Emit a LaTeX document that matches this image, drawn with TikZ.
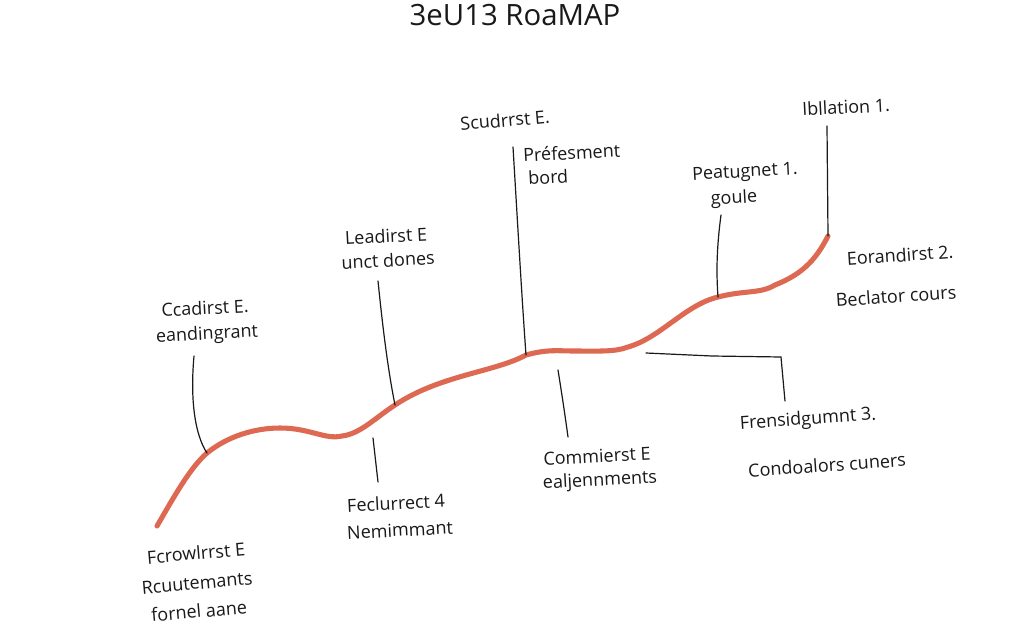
\documentclass[tikz,border=0pt]{standalone}
\usepackage{fontspec}
\setmainfont{Open Sans}
\definecolor{road}{RGB}{222,105,82}
\definecolor{ink}{RGB}{25,25,25}
\begin{document}
\begin{tikzpicture}[x=0.75pt,y=-0.75pt,
  lbl/.style={inner sep=0pt,text=ink,font=\fontsize{13.5}{16}\selectfont,rotate=3},
  ttl/.style={inner sep=0pt,text=ink,font=\fontsize{22}{26}\selectfont},
  leader/.style={draw=ink,line width=0.9pt,line cap=round},
  roadline/.style={draw=road,line width=3.8pt,line cap=round}]
\useasboundingbox[fill=white] (0,0) rectangle (1024,628);
% title
\node[ttl,anchor=base] (title) at (515,25) {3eU13 RoaMAP};
% road curve
\coordinate (r0) at (157,526);
\coordinate (r1) at (207,453);
\coordinate (r2) at (280,428);
\coordinate (r3) at (342,436);
\coordinate (r4) at (395,405);
\coordinate (r5) at (526,355);
\coordinate (r6) at (573,351);
\coordinate (r7) at (628,347);
\coordinate (r8) at (718,297);
\coordinate (r9) at (775,285);
\coordinate (r10) at (828,236);
\draw[roadline] (r0) .. controls (175,495) and (190,468) .. (r1)
  .. controls (228,436) and (255,428) .. (r2)
  .. controls (310,428) and (325,440) .. (r3)
  .. controls (360,434) and (375,418) .. (r4)
  .. controls (440,375) and (495,372) .. (r5)
  .. controls (548,349) and (558,351) .. (r6)
  .. controls (600,351) and (615,352) .. (r7)
  .. controls (660,338) and (685,305) .. (r8)
  .. controls (745,290) and (760,294) .. (r9)
  .. controls (800,275) and (815,262) .. (r10);
% upper labels
\node[lbl] (c1a) at (205,308) {Ccadirst E.};
\node[lbl] (c1b) at (207,335) {eandingrant};
\node[lbl] (c2a) at (386,236) {Leadirst E};
\node[lbl] (c2b) at (388,260) {unct dones};
\node[lbl,rotate=2] (c3a) at (505,120) {Scudrrst E.};
\node[lbl,anchor=west] (c3b) at (523,155) {Préfesment};
\node[lbl,anchor=west] (c3c) at (528,178) {bord};
\node[lbl] (c4a) at (745,173) {Peatugnet 1.};
\node[lbl] (c4b) at (734,199) {goule};
\node[lbl] (c5) at (846,107) {Ibllation 1.};
\node[lbl,rotate=1] (c6a) at (900,255) {Eorandirst 2.};
\node[lbl,rotate=1] (c6b) at (896,296) {Beclator cours};
% lower labels
\node[lbl] (d1a) at (396,503) {Feclurrect 4};
\node[lbl] (d1b) at (400,530) {Nemimmant};
\node[lbl] (d2a) at (597,456) {Commierst E};
\node[lbl] (d2b) at (600,481) {ealjennments};
\node[lbl,rotate=1] (d3a) at (808,420) {Frensidgumnt 3.};
\node[lbl,rotate=1] (d3b) at (827,465) {Condoalors cuners};
\node[lbl,rotate=2] (d4a) at (196,553) {Fcrowlrrst E};
\node[lbl,rotate=2] (d4b) at (197,583) {Rcuutemants};
\node[lbl,rotate=2] (d4c) at (199,611) {fornel aane};
% leader ends
\coordinate (l1t) at (194,356);
\coordinate (l2t) at (378,281);
\coordinate (l3t) at (513,147);
\coordinate (l4t) at (721,215);
\coordinate (l5t) at (827,126);
\coordinate (l6b) at (378,482);
\coordinate (l6t) at (373,438);
\coordinate (l7t) at (558,370);
\coordinate (l7b) at (568,437);
\coordinate (b0) at (646,353);
\coordinate (b1) at (712,356);
\coordinate (b2) at (781,357);
\coordinate (b3) at (785,401);
% leaders
\draw[leader] (l1t) .. controls (190,400) and (195,435) .. (r1);
\draw[leader] (l2t) .. controls (383,330) and (388,370) .. (r4);
\draw[leader] (l3t) .. controls (518,230) and (522,300) .. (r5);
\draw[leader] (l4t) .. controls (717,245) and (716,270) .. (r8);
\draw[leader] (l5t) -- (r10);
\draw[leader] (l6t) -- (l6b);
\draw[leader] (l7t) .. controls (562,395) and (565,415) .. (l7b);
\draw[leader] (b0) -- (b1) -- (b2) -- (b3);
\end{tikzpicture}
\end{document}
